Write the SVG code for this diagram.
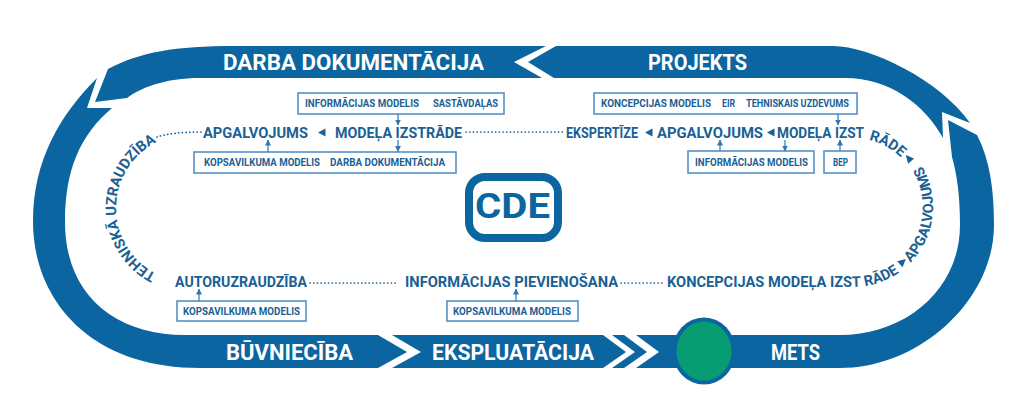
<svg xmlns="http://www.w3.org/2000/svg" width="1024" height="418" viewBox="0 0 1024 418">
<style>
.band{fill:#0b65a1}
.blabel{fill:#ffffff;font-family:Roboto,"Liberation Sans",sans-serif;font-weight:700;font-size:21.5px}
.step{fill:#1a5f95;font-family:Roboto,"Liberation Sans",sans-serif;font-weight:700;font-size:15px}
.cstep{fill:#1a5f95;font-family:Roboto,"Liberation Sans",sans-serif;font-weight:700;font-size:14.6px}
.box{fill:#ffffff;stroke:#4a8bc4;stroke-width:1.5}
.btxt{fill:#1a5f95;font-family:Roboto,"Liberation Sans",sans-serif;font-weight:700;font-size:10px}
.tri{fill:#1a5f95}
.arr{stroke:#2f78b5;stroke-width:1.2;fill:none;marker-end:url(#ah)}
.dots{stroke:#1a5f95;stroke-width:1.7;fill:none;stroke-linecap:round;stroke-dasharray:0.1 3.6}
</style>
<defs>
<marker id="ah" markerUnits="userSpaceOnUse" markerWidth="6" markerHeight="6" refX="5.5" refY="3" orient="auto">
<path d="M0,0 L6,3 L0,6 Z" fill="#2f78b5"/>
</marker>
<path id="tp-left" d="M164.7,277.5 A74,74 0 0 1 164.7,138.5"/>
<path id="tp-top-right" d="M777,138 L853,138 A69,69 0 0 1 905.9,162.7"/>
<path id="tp-bottom-right" d="M667,287 L853,287 A80,80 0 0 0 933,207 A80,80 0 0 0 893,137.7"/>
</defs>
<rect width="1024" height="418" fill="#ffffff"/>

<g id="cycle-bands">
<path id="band-darba" class="band" d="M108,69 C140,52 175,46 235,46 L546,46 L514,62 L542,78 L200,78 C165,78 140,88 127,98 L95,102 Z"/>
<path id="band-projekts" class="band" d="M556,46 L833,46 C870,46 940,80 970,123 L942,112 L943,138 C925,105 890,78 845,78 L554,78 L528,62 Z"/>
<path id="band-buvnieciba" class="band" d="M97,78 C60,115 33,160 33,222 C33,295 85,368 200,368 L378,368 L407,352 L378,335 L185,335 C115,335 65,295 65,222 C65,170 80,135 112,108 L87,108 Z"/>
<path id="band-ekspluatacija" class="band" d="M392,335 L603,335 L626,352 L603,368 L392,368 L421,352 Z"/>
<path id="band-chevron" class="band" d="M612,335 L624,335 L647,352 L624,368 L612,368 L635,352 Z"/>
<path id="band-mets" class="band" d="M948,120 L977,135 C990,160 994,190 994,225 C994,300 920,368 840,368 L636,368 L659,352 L636,335 L840,335 C905,335 960,290 960,225 C960,195 957,175 952,157 Z"/>
</g>

<g id="node-darba-dokumentacija"><text class="blabel" x="223" y="69.5" textLength="261" lengthAdjust="spacingAndGlyphs">DARBA DOKUMENTĀCIJA</text></g>
<g id="node-projekts"><text class="blabel" x="648" y="69.5" textLength="99" lengthAdjust="spacingAndGlyphs">PROJEKTS</text></g>
<g id="node-buvnieciba"><text class="blabel" x="226" y="360" textLength="127" lengthAdjust="spacingAndGlyphs">BŪVNIECĪBA</text></g>
<g id="node-ekspluatacija"><text class="blabel" x="432" y="360" textLength="162" lengthAdjust="spacingAndGlyphs">EKSPLUATĀCIJA</text></g>
<g id="node-mets">
<ellipse cx="704" cy="351" rx="31.5" ry="33.5" fill="#0b65a1"/>
<ellipse cx="704" cy="351" rx="27.5" ry="29.5" fill="#089c72"/>
<text class="blabel" x="771" y="360" textLength="49" lengthAdjust="spacingAndGlyphs">METS</text>
</g>

<g id="node-cde">
<rect x="469" y="177" width="89" height="61" rx="16" fill="#ffffff" stroke="#0b65a1" stroke-width="8"/>
<text x="475" y="218" fill="#0b65a1" font-family="Roboto,'Liberation Sans',sans-serif" font-weight="700" font-size="35" textLength="75" lengthAdjust="spacingAndGlyphs">CDE</text>
</g>

<g id="node-tehniska-uzraudziba"><text class="cstep" font-size="14.8"><textPath href="#tp-left" startOffset="50%" text-anchor="middle">TEHNISKĀ UZRAUDZĪBA</textPath></text></g>
<g id="node-apgalvojums-1"><text class="step" x="203" y="138" textLength="105" lengthAdjust="spacingAndGlyphs">APGALVOJUMS</text></g>
<g id="node-modela-izstrade-1"><text class="step" x="335" y="138" textLength="127" lengthAdjust="spacingAndGlyphs">MODEĻA IZSTRĀDE</text></g>
<g id="node-ekspertize"><text class="step" x="566" y="138" textLength="72" lengthAdjust="spacingAndGlyphs">EKSPERTĪZE</text></g>
<g id="node-apgalvojums-2"><text class="step" x="657" y="138" textLength="106" lengthAdjust="spacingAndGlyphs">APGALVOJUMS</text></g>
<g id="node-modela-izstrade-2">
<text class="step" x="777" y="138" textLength="87" lengthAdjust="spacingAndGlyphs">MODEĻA IZST</text>
<text class="cstep"><textPath href="#tp-top-right" startOffset="92">RĀDE</textPath></text>
</g>
<g id="node-koncepcijas-modela-izstrade"><text class="cstep"><textPath href="#tp-bottom-right">KONCEPCIJAS MODEĻA IZST<tspan dx="4">RĀDE</tspan></textPath></text></g>
<g id="node-apgalvojums-3"><text class="cstep"><textPath href="#tp-bottom-right" startOffset="250">APGALVOJUMS</textPath></text></g>
<g id="node-autoruzraudziba"><text class="step" x="175" y="287" textLength="132" lengthAdjust="spacingAndGlyphs">AUTORUZRAUDZĪBA</text></g>
<g id="node-informacijas-pievienosana"><text class="step" x="405" y="287" textLength="213" lengthAdjust="spacingAndGlyphs">INFORMĀCIJAS PIEVIENOŠANA</text></g>

<g id="node-box-info-sastavdalas">
<rect class="box" x="298" y="93" width="206" height="21"/>
<text class="btxt" x="305" y="107" textLength="114" lengthAdjust="spacingAndGlyphs">INFORMĀCIJAS MODELIS</text>
<text class="btxt" x="433" y="107" textLength="65" lengthAdjust="spacingAndGlyphs">SASTĀVDAĻAS</text>
</g>
<g id="node-box-kopsavilkums-darba">
<rect class="box" x="194" y="152" width="262" height="21"/>
<text class="btxt" x="204" y="166" textLength="116" lengthAdjust="spacingAndGlyphs">KOPSAVILKUMA MODELIS</text>
<text class="btxt" x="330" y="166" textLength="115" lengthAdjust="spacingAndGlyphs">DARBA DOKUMENTĀCIJA</text>
</g>
<g id="node-box-koncepcijas-eir">
<rect class="box" x="594" y="93" width="263" height="21"/>
<text class="btxt" x="601" y="107" textLength="110" lengthAdjust="spacingAndGlyphs">KONCEPCIJAS MODELIS</text>
<text class="btxt" x="722" y="107" textLength="13" lengthAdjust="spacingAndGlyphs">EIR</text>
<text class="btxt" x="746" y="107" textLength="103" lengthAdjust="spacingAndGlyphs">TEHNISKAIS UZDEVUMS</text>
</g>
<g id="node-box-informacijas">
<rect class="box" x="688" y="151" width="126" height="22"/>
<text class="btxt" x="695" y="166" textLength="113" lengthAdjust="spacingAndGlyphs">INFORMĀCIJAS MODELIS</text>
</g>
<g id="node-box-bep">
<rect class="box" x="824" y="151" width="32" height="22"/>
<text class="btxt" x="833" y="166" textLength="15" lengthAdjust="spacingAndGlyphs">BEP</text>
</g>
<g id="node-box-kopsavilkums-1">
<rect class="box" x="177" y="301" width="129" height="20"/>
<text class="btxt" x="183" y="314.5" textLength="117" lengthAdjust="spacingAndGlyphs">KOPSAVILKUMA MODELIS</text>
</g>
<g id="node-box-kopsavilkums-2">
<rect class="box" x="447" y="301" width="131" height="20"/>
<text class="btxt" x="453" y="314.5" textLength="118" lengthAdjust="spacingAndGlyphs">KOPSAVILKUMA MODELIS</text>
</g>

<g id="connectors">
<path class="dots" d="M157,137 Q172,132 201,132"/>
<path class="dots" d="M466,132 L563,132"/>
<path class="dots" d="M310,283 L398,283"/>
<path class="dots" d="M621,283 L663,283"/>
<polygon class="tri" points="318,132.5 325.5,128.5 325.5,136.5"/>
<polygon class="tri" points="645,132.5 652.5,128.5 652.5,136.5"/>
<polygon class="tri" points="767,132.5 774.5,128.5 774.5,136.5"/>
<polygon class="tri" points="905.8,155.1 914.1,158.5 908.1,163.7"/>
<polygon class="tri" points="905.8,259 902.6,267.3 897.2,261.3"/>
<path class="arr" d="M398,114 L398,125"/>
<path class="arr" d="M398,140 L398,151.5"/>
<path class="arr" d="M268,152 L268,140"/>
<path class="arr" d="M838,114 L838,125"/>
<path class="arr" d="M720,151 L720,140"/>
<path class="arr" d="M785,140 L785,151"/>
<path class="arr" d="M840,151 L840,140"/>
<path class="arr" d="M199,301 L199,289"/>
<path class="arr" d="M516,301 L516,289"/>
</g>
</svg>
